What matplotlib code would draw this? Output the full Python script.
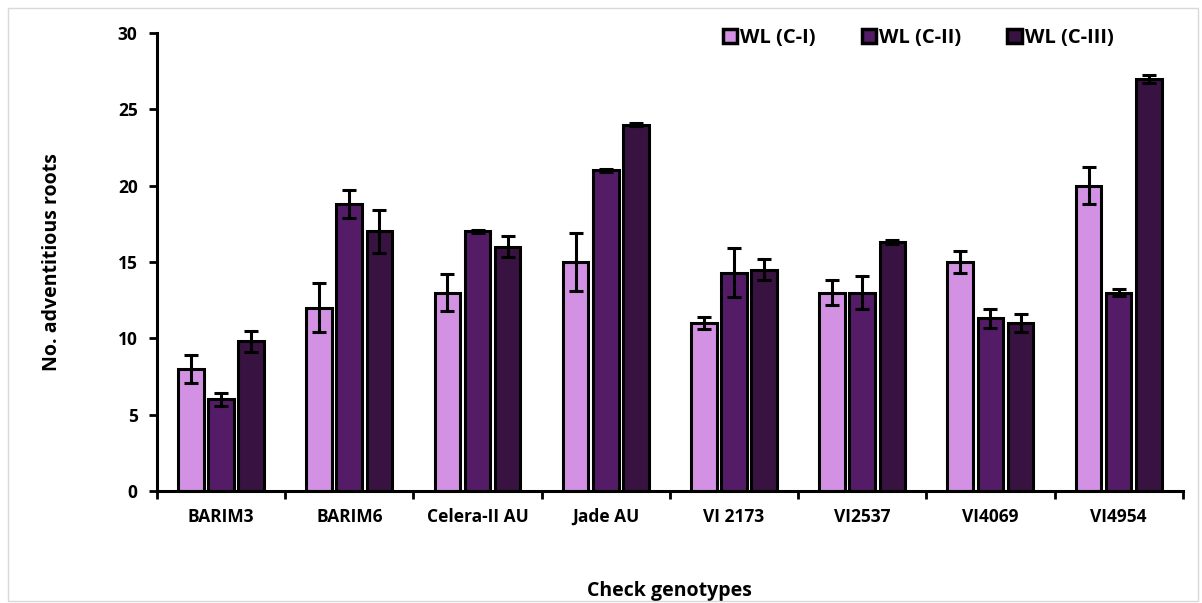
import numpy as np
import matplotlib.pyplot as plt
from matplotlib.patches import Rectangle

plt.rcParams['font.family'] = ['Open Sans', 'DejaVu Sans']

# ---- data
genotypes = ['BARIM3', 'BARIM6', 'Celera-II AU', 'Jade AU', 'VI 2173', 'VI2537', 'VI4069', 'VI4954']
series = ['WL (C-I)', 'WL (C-II)', 'WL (C-III)']
c1 = [8, 12, 13, 15, 11, 13, 15, 20]
c2 = [6, 18.8, 17, 21, 14.3, 13, 11.3, 13]
c3 = [9.8, 17, 16, 24, 14.5, 16.3, 11, 27]
e1 = [0.9, 1.6, 1.2, 1.9, 0.4, 0.8, 0.7, 1.2]
e2 = [0.4, 0.9, 0.1, 0.1, 1.6, 1.1, 0.6, 0.2]
e3 = [0.7, 1.4, 0.7, 0.1, 0.7, 0.15, 0.6, 0.25]
colors = ['#d291e3', '#541b66', '#381240']

fig = plt.figure(figsize=(12.02, 6.03), dpi=100)
ax = fig.add_axes([0.1306, 0.1857, 0.8534, 0.7596])

# frame around the figure
fig.patches.append(Rectangle((0.007, 0.003), 0.99, 0.984, transform=fig.transFigure,
                             fill=False, edgecolor='#d9d9d9', linewidth=1))

x = np.arange(len(genotypes))
w = 0.2
gap = 0.035
for i, (vals, errs) in enumerate(zip([c1, c2, c3], [e1, e2, e3])):
    pos = x + (i - 1) * (w + gap)
    ax.bar(pos, vals, width=w, color=colors[i], edgecolor='black', linewidth=2.2,
           label=series[i], zorder=2)
    ax.errorbar(pos, vals, yerr=errs, fmt='none', ecolor='black', elinewidth=2.2,
                capsize=5, capthick=2.2, zorder=3)

ax.set_xlim(-0.5, len(genotypes) - 0.5)
ax.set_ylim(0, 30)
ax.set_yticks(range(0, 31, 5))
ax.set_xticks(x)
ax.set_xticklabels(genotypes, fontsize=12.5, fontweight='bold')
ax.set_xticks(np.arange(-0.5, len(genotypes), 1), minor=True)
ax.tick_params(axis='x', which='major', length=0, pad=12)
ax.tick_params(axis='x', which='minor', length=6, width=2, direction='out')
ax.tick_params(axis='y', length=6, width=2, direction='out', labelsize=12.5, pad=8)
for lab in ax.get_yticklabels():
    lab.set_fontweight('bold')

for s in ['top', 'right']:
    ax.spines[s].set_visible(False)
for s in ['left', 'bottom']:
    ax.spines[s].set_linewidth(2.2)

ax.set_ylabel('No. adventitious roots', fontsize=14, fontweight='bold', labelpad=40)
ax.set_xlabel('Check genotypes', fontsize=14, fontweight='bold', labelpad=40)

leg = ax.legend(loc='upper right', bbox_to_anchor=(0.95, 1.05), ncol=3, frameon=False,
                prop={'weight': 'bold', 'size': 14.5}, handlelength=0.7, handleheight=0.7,
                handletextpad=0.15, columnspacing=2.3)
for h in leg.legend_handles:
    h.set_linewidth(2.5)

fig.savefig('out.png', dpi=100)
